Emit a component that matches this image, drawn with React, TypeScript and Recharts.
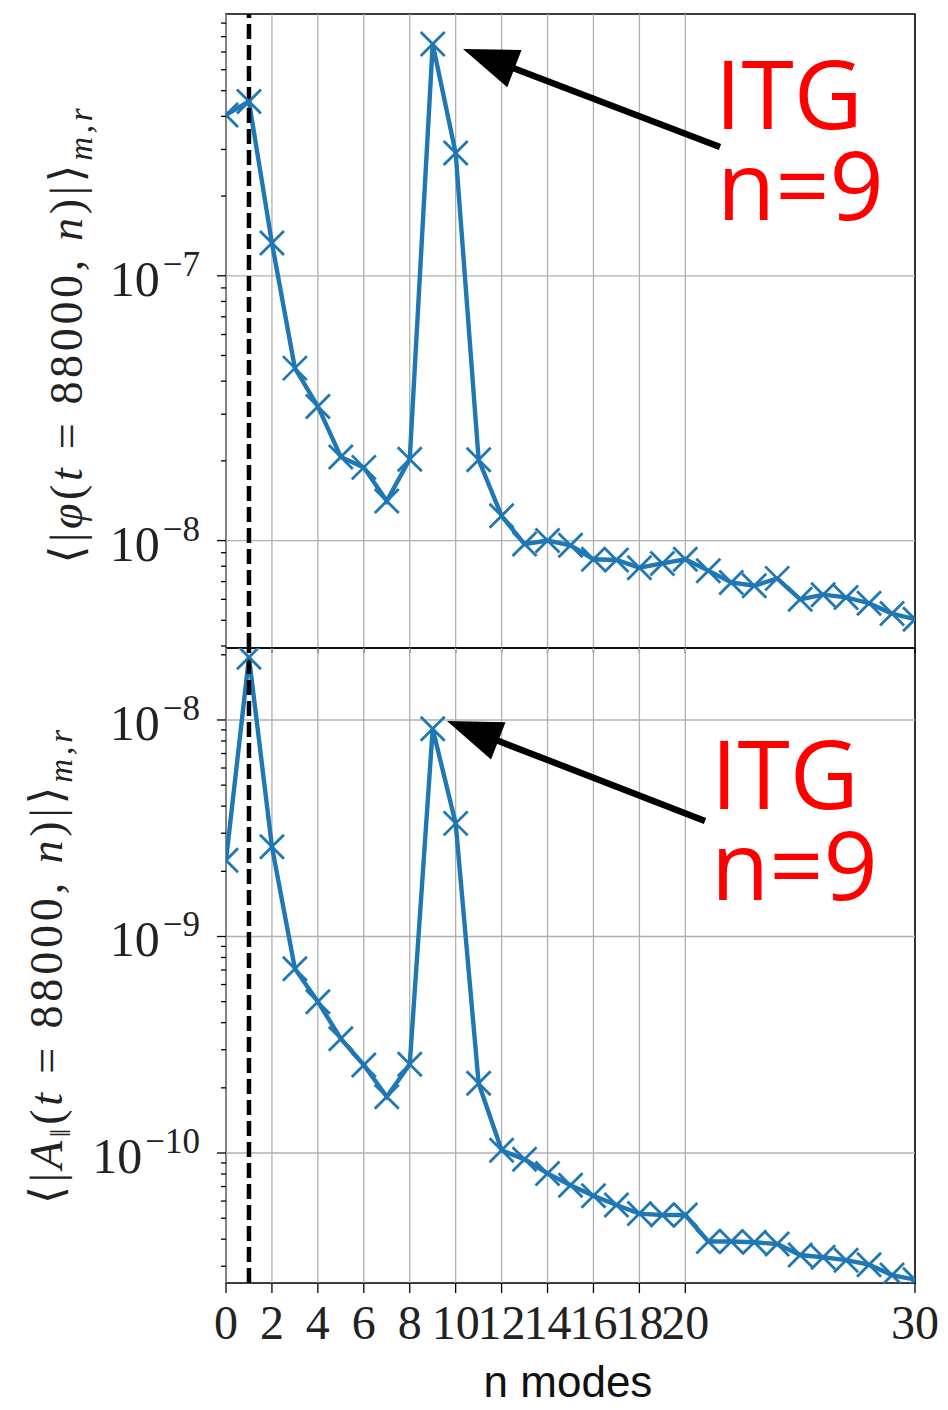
import React from 'react';
import { LineChart, Line, XAxis, YAxis, ReferenceLine, ReferenceArea } from 'recharts';

// ---------- data ----------
const nModes = [0, 1, 2, 3, 4, 5, 6, 7, 8, 9, 10, 11, 12, 13, 14, 15, 16, 17, 18, 19, 20, 21, 22, 23, 24, 25, 26, 27, 28, 29, 30];

const phiValues = [
  4.05e-7, 4.55e-7, 1.33e-7, 4.48e-8, 3.21e-8, 2.07e-8, 1.89e-8, 1.41e-8, 2.03e-8, 7.5e-7,
  2.91e-7, 2.02e-8, 1.24e-8, 9.7e-9, 1.0e-8, 9.6e-9, 8.5e-9, 8.45e-9, 7.9e-9, 8.2e-9,
  8.5e-9, 7.7e-9, 6.95e-9, 6.75e-9, 7.2e-9, 6.0e-9, 6.25e-9, 6.1e-9, 5.8e-9, 5.3e-9, 5.05e-9,
];

const aparValues = [
  2.25e-9, 1.95e-8, 2.6e-9, 7.1e-10, 5.0e-10, 3.37e-10, 2.55e-10, 1.82e-10, 2.57e-10, 9.1e-9,
  3.33e-9, 2.1e-10, 1.03e-10, 9.35e-11, 8.05e-11, 7.1e-11, 6.35e-11, 5.75e-11, 5.25e-11, 5.17e-11,
  5.17e-11, 3.9e-11, 3.9e-11, 3.87e-11, 3.8e-11, 3.38e-11, 3.3e-11, 3.2e-11, 3.05e-11, 2.73e-11, 2.6e-11,
];

const xTicks = [0, 2, 4, 6, 8, 10, 12, 14, 16, 18, 20, 30];
const xGridValues = [0, 2, 4, 6, 8, 10, 12, 14, 16, 18, 20];
const markedMode = 1;

const phiDomain = [3.93e-9, 9.74e-7];
const aparDomain = [2.51e-11, 2.15e-8];

const phiMajor = [1e-8, 1e-7];
const aparMajor = [1e-10, 1e-9, 1e-8];

const phiTicks = [
  4e-9, 5e-9, 6e-9, 7e-9, 8e-9, 9e-9,
  1e-8, 2e-8, 3e-8, 4e-8, 5e-8, 6e-8, 7e-8, 8e-8, 9e-8,
  1e-7, 2e-7, 3e-7, 4e-7, 5e-7, 6e-7, 7e-7, 8e-7, 9e-7,
];
const aparTicks = [
  3e-11, 4e-11, 5e-11, 6e-11, 7e-11, 8e-11, 9e-11,
  1e-10, 2e-10, 3e-10, 4e-10, 5e-10, 6e-10, 7e-10, 8e-10, 9e-10,
  1e-9, 2e-9, 3e-9, 4e-9, 5e-9, 6e-9, 7e-9, 8e-9, 9e-9,
  1e-8, 2e-8,
];

const data = nModes.map((n, i) => ({ n, phi: phiValues[i], apar: aparValues[i] }));

// ---------- styles ----------
const BLUE = '#1f77b4';
const GRID = '#b0b0b0';
const SERIF = '"Liberation Serif", "DejaVu Serif", serif';
const SANS = '"Open Sans", "Noto Sans", sans-serif';

const W = 948;
const PLOT_LEFT = 226;
const PLOT_RIGHT_MARGIN = 33;

// ---------- components ----------
const XMark = (props: any) => {
  const { cx, cy, index } = props;
  if (cx == null || cy == null) return <g key={`m-${index}`} />;
  const s = 12;
  return (
    <g key={`m-${index}`}>
      <line x1={cx - s} y1={cy - s} x2={cx + s} y2={cy + s} stroke={BLUE} strokeWidth={2.8} />
      <line x1={cx - s} y1={cy + s} x2={cx + s} y2={cy - s} stroke={BLUE} strokeWidth={2.8} />
    </g>
  );
};

const isMajor = (v: number) => {
  const e = Math.floor(Math.log10(v) + 1e-9);
  const m = v / Math.pow(10, e);
  return Math.abs(m - 1) < 1e-6;
};

const YTick = (props: any) => {
  const { x, y, payload } = props;
  const v = payload.value;
  const major = isMajor(v);
  const e = Math.round(Math.log10(v));
  return (
    <g>
      <line x1={x - (major ? 9 : 5)} x2={x} y1={y} y2={y} stroke="#000" strokeWidth={1.3} />
      {major && (
        <text x={x - 26} y={y + 20} textAnchor="end" fontFamily={SERIF} fontSize={50} fill="#222">
          10
          <tspan dx={3} dy={-20} fontSize={35}>{`\u2212${Math.abs(e)}`}</tspan>
        </text>
      )}
    </g>
  );
};

const EmptyTick = () => <g />;

const XTick = (props: any) => {
  const { x, y, payload } = props;
  return (
    <text x={x} y={y + 46} textAnchor="middle" fontFamily={SERIF} fontSize={48} fill="#222">
      {payload.value}
    </text>
  );
};

const Panel = ({ dataKey, domain, ticks, majors, height, top, bottomAxisHeight, showXLabels }: any) => (
  <LineChart
    width={W}
    height={height}
    data={data}
    margin={{ top, right: PLOT_RIGHT_MARGIN, left: 0, bottom: 0 }}
  >
    <XAxis
      dataKey="n"
      type="number"
      domain={[0, 30]}
      ticks={xTicks}
      interval={0}
      height={bottomAxisHeight}
      axisLine={false}
      tickLine={{ stroke: '#000', strokeWidth: 1.3 }}
      tickSize={showXLabels ? 10 : 5}
      tickMargin={0}
      tick={showXLabels ? <XTick /> : <EmptyTick />}
      allowDataOverflow
    />
    <YAxis
      type="number"
      scale="log"
      domain={domain}
      allowDataOverflow
      ticks={ticks}
      interval={0}
      width={PLOT_LEFT}
      axisLine={false}
      tickLine={false}
      tickSize={0}
      tickMargin={0}
      tick={<YTick />}
    />
    {xGridValues.map((v) => (
      <ReferenceLine key={`gx-${v}`} x={v} stroke={GRID} strokeWidth={1.3} />
    ))}
    {majors.map((v: number) => (
      <ReferenceLine key={`gy-${v}`} y={v} stroke={GRID} strokeWidth={1.3} />
    ))}
    <Line
      type="linear"
      dataKey={dataKey}
      stroke={BLUE}
      strokeWidth={4.4}
      dot={XMark}
      activeDot={false}
      isAnimationActive={false}
    />
    <ReferenceLine x={markedMode} stroke="#000" strokeWidth={4.5} strokeDasharray="15 6" />
    <ReferenceArea x1={0} x2={30} y1={domain[0]} y2={domain[1]} fill="none" stroke="#000" strokeWidth={1.6} />
  </LineChart>
);

const Arrow = ({ tail, tip }: { tail: [number, number]; tip: [number, number] }) => {
  const dx = tip[0] - tail[0];
  const dy = tip[1] - tail[1];
  const len = Math.sqrt(dx * dx + dy * dy);
  const ux = dx / len;
  const uy = dy / len;
  const px = -uy;
  const py = ux;
  const headLen = 55;
  const halfW = 20;
  const bx = tip[0] - headLen * ux;
  const by = tip[1] - headLen * uy;
  return (
    <g>
      <line x1={tail[0]} y1={tail[1]} x2={bx + 5 * ux} y2={by + 5 * uy} stroke="#000" strokeWidth={6.5} />
      <polygon
        points={`${tip[0]},${tip[1]} ${bx + halfW * px},${by + halfW * py} ${bx - halfW * px},${by - halfW * py}`}
        fill="#000"
      />
    </g>
  );
};

const Overlay = () => (
  <svg width={W} height={1410} style={{ position: 'absolute', left: 0, top: 0, pointerEvents: 'none' }}>
    {/* y labels */}
    <text
      x={82}
      y={336}
      transform="rotate(-90 82 336)"
      textAnchor="middle"
      fontFamily={SERIF}
      fontSize={46}
      fill="#222"
      textLength={455}
      lengthAdjust="spacing"
      style={{ whiteSpace: 'pre' }}
    >
      {'\u27E8|'}
      <tspan fontStyle="italic">φ</tspan>
      {'('}
      <tspan fontStyle="italic">t</tspan>
      {' = 88000, '}
      <tspan fontStyle="italic">n</tspan>
      {')|\u27E9'}
      <tspan fontStyle="italic" fontSize={33} dy={10}>m,r</tspan>
    </text>
    <text
      x={62}
      y={967}
      transform="rotate(-90 62 967)"
      textAnchor="middle"
      fontFamily={SERIF}
      fontSize={46}
      fill="#222"
      textLength={474}
      lengthAdjust="spacing"
      style={{ whiteSpace: 'pre' }}
    >
      {'\u27E8|'}
      <tspan fontStyle="italic">A</tspan>
      <tspan fontSize={30} dy={8}>{'\u2016'}</tspan>
      <tspan dy={-8}>{'('}</tspan>
      <tspan fontStyle="italic">t</tspan>
      {' = 88000, '}
      <tspan fontStyle="italic">n</tspan>
      {')|\u27E9'}
      <tspan fontStyle="italic" fontSize={33} dy={10}>m,r</tspan>
    </text>

    {/* x label */}
    <text x={568} y={1397} textAnchor="middle" fontFamily='"Liberation Sans", sans-serif' fontSize={44} fill="#111">
      n modes
    </text>

    {/* annotations */}
    <Arrow tail={[720, 147]} tip={[463, 49]} />
    <Arrow tail={[705, 821]} tip={[447, 721]} />
    <text fontFamily={SANS} fontSize={95} fill="#ff0000">
      <tspan x={715} y={129}>ITG</tspan>
      <tspan x={717} y={220}>n=9</tspan>
    </text>
    <text fontFamily={SANS} fontSize={95} fill="#ff0000">
      <tspan x={711} y={809}>ITG</tspan>
      <tspan x={711} y={900}>n=9</tspan>
    </text>
  </svg>
);

export default function App() {
  return (
    <div style={{ position: 'absolute', left: 0, top: 0, width: W, height: 1410, background: '#fff', overflow: 'hidden' }}>
      <div style={{ position: 'absolute', left: 0, top: 0 }}>
        <Panel
          dataKey="phi"
          domain={phiDomain}
          ticks={phiTicks}
          majors={phiMajor}
          height={660}
          top={14}
          bottomAxisHeight={12}
          showXLabels={false}
        />
      </div>
      <div style={{ position: 'absolute', left: 0, top: 600 }}>
        <Panel
          dataKey="apar"
          domain={aparDomain}
          ticks={aparTicks}
          majors={aparMajor}
          height={810}
          top={48}
          bottomAxisHeight={127}
          showXLabels={true}
        />
      </div>
      <Overlay />
    </div>
  );
}
